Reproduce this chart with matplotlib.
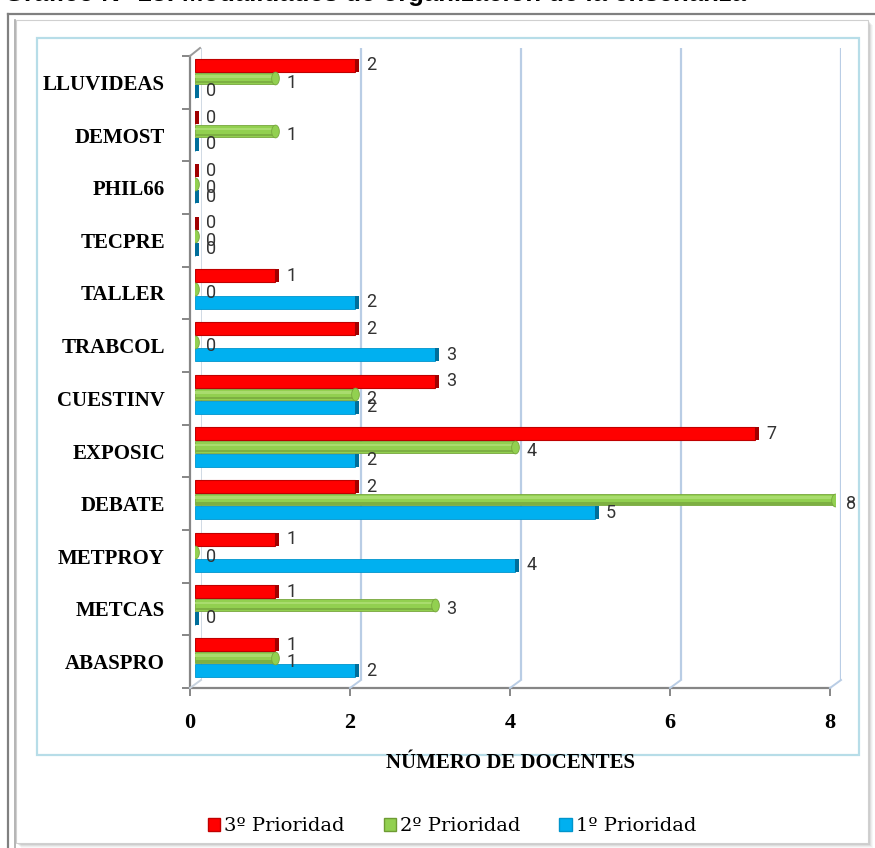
import numpy as np
import matplotlib
matplotlib.use("Agg")
import matplotlib.pyplot as plt
import matplotlib.font_manager as fm
from matplotlib.transforms import Affine2D
from matplotlib.patches import Rectangle, Patch
from matplotlib.lines import Line2D
from matplotlib.path import Path

# =============================================================================
# data (bottom -> top)
# =============================================================================
categories = ["ABASPRO", "METCAS", "METPROY", "DEBATE", "EXPOSIC", "CUESTINV",
              "TRABCOL", "TALLER", "TECPRE", "PHIL66", "DEMOST", "LLUVIDEAS"]
prio3 = [1, 1, 1, 2, 7, 3, 2, 1, 0, 0, 0, 2]
prio2 = [1, 3, 0, 8, 4, 2, 0, 0, 0, 0, 1, 1]
prio1 = [2, 0, 4, 5, 2, 2, 3, 2, 0, 0, 0, 0]
series_names = ["3º Prioridad", "2º Prioridad", "1º Prioridad"]
x_ticks = [0, 2, 4, 6, 8]
x_title = "NÚMERO DE DOCENTES"
title = "Gráfico N° 18: Modalidades de organización de la enseñanza"

W, H = 875, 848
fig = plt.figure(figsize=(W / 100, H / 100), dpi=100)
fig.patch.set_facecolor("white")

# pixel coords, y going down
px = Affine2D().scale(1 / W, -1 / H).translate(0, 1) + fig.transFigure


def box(l, t, r, b):
    return [l / W, 1 - b / H, (r - l) / W, (b - t) / H]


names = {f.name for f in fm.fontManager.ttflist}
num_font = "Liberation Sans Narrow" if "Liberation Sans Narrow" in names else "Roboto"
serif = ["Liberation Serif", "DejaVu Serif"]

# --> outer frame / card with shadow (behind the axes)
fig.add_artist(Line2D([8, 875], [14, 14], color="#808080", lw=1.6, transform=px))
fig.add_artist(Line2D([8, 8], [14, 848], color="#808080", lw=1.6, transform=px))
for i, a in enumerate([0.10, 0.08, 0.06, 0.04, 0.03]):
    fig.add_artist(Rectangle((16 + i + 1, 20 + i + 1), 852, 823, facecolor="#000000",
                             alpha=a, lw=0, transform=px, zorder=-3))
fig.add_artist(Rectangle((16, 20), 852, 823, facecolor="white", edgecolor="#D0D0D0",
                         lw=0.8, transform=px, zorder=-2))
fig.add_artist(Line2D([15, 15], [20, 848], color="#A8A8A8", lw=1.2, transform=px))
fig.add_artist(Rectangle((37, 38), 822, 717, facecolor="none", edgecolor="#B7DDE8",
                         lw=1.6, transform=px, zorder=-1))

# cut off title at the very top
fig.text(746, 0.5, title, transform=px, ha="right", va="baseline",
         fontsize=18.5, fontweight="bold", family=["Liberation Sans", "DejaVu Sans"])

n = len(categories)
ylim = (-0.5, n - 0.5)

# =============================================================================
# back wall: gridlines
# =============================================================================
ax_back = fig.add_axes(box(201, 48, 841, 680))
ax_back.set_xlim(0, 8)
ax_back.set_ylim(*ylim)
ax_back.axis("off")
for g in x_ticks[1:]:
    ax_back.axvline(g, color="#B9CDE5", lw=1.6)
ax_back.axvline(0, color="#C8D3DF", lw=1.2)

# =============================================================================
# front: spines, ticks, labels
# =============================================================================
ax = fig.add_axes(box(190, 56, 830, 688))
ax.patch.set_alpha(0)
ax.set_xlim(0, 8)
ax.set_ylim(*ylim)
for s in ["top", "right"]:
    ax.spines[s].set_visible(False)
for s in ["left", "bottom"]:
    ax.spines[s].set_color("#868686")
    ax.spines[s].set_linewidth(1.6)
ax.set_xticks(x_ticks)
ax.set_xticklabels([str(t) for t in x_ticks], fontsize=16, fontweight="bold", family=serif)
ax.tick_params(axis="x", length=6, width=1.4, color="#868686", pad=12)
ax.set_yticks(np.arange(-0.5, n, 1.0))
ax.set_yticklabels([])
ax.tick_params(axis="y", which="major", length=6, width=1.4, color="#868686")
ax.set_yticks(np.arange(n), minor=True)
ax.set_yticklabels(categories, minor=True, fontsize=15, fontweight="bold", family=serif)
ax.tick_params(axis="y", which="minor", length=0, pad=18)

# 3D slants joining front and back planes
for g in x_ticks:
    xb, _ = ax_back.transData.transform((g, ylim[0]))
    xf, _ = ax.transData.transform((g, ylim[0]))
    col = "#B9CDE5" if g > 0 else "#C8D3DF"
    fig.add_artist(Line2D([xf, xb], [688, 680], color=col, lw=1.4, transform=px))
fig.add_artist(Line2D([190, 200], [56, 48], color="#9A9A9A", lw=1.4, transform=px))

fig.text(511, 763, x_title, transform=px, ha="center", va="center",
         fontsize=15, fontweight="bold", family=serif)

# =============================================================================
# bars (middle plane)
# =============================================================================
axb = fig.add_axes(box(195, 52, 835, 684))
axb.patch.set_alpha(0)
axb.set_xlim(0, 8)
axb.set_ylim(*ylim)
axb.axis("off")

y = np.arange(n)
h = 0.25
side = 0.045

# red - 3º
axb.barh(y + h, prio3, height=h, color="#FF0000", edgecolor="#C00000", lw=0.8)
axb.barh(y + h, side, left=prio3, height=h, color="#A00000", lw=0)
# blue - 1º
axb.barh(y - h, prio1, height=h, color="#00B0F0", edgecolor="#0095CC", lw=0.6)
axb.barh(y - h, side, left=prio1, height=h, color="#006E9A", lw=0)
# green - 2º cylinder
axb.barh(y, prio2, height=h * 0.85, color="#92D050", edgecolor="#77A63D", lw=0.6)
axb.barh(y + h * 0.15, prio2, height=h * 0.2, color="#A9DC6E", lw=0)
axb.barh(y - h * 0.3, prio2, height=h * 0.18, color="#7DB042", lw=0)
t = np.linspace(0, 2 * np.pi, 40)
cap = Path(np.column_stack([0.6 * np.cos(t), np.sin(t)]))
axb.scatter(prio2, y, marker=cap, s=85, color="#92D050", edgecolors="#77A63D",
            linewidths=0.6, zorder=3)

for vals, dy, off in [(prio3, h, 0), (prio2, 0, -3), (prio1, -h, 0)]:
    for yi, v in zip(y, vals):
        axb.annotate(str(v), (v, yi + dy), xytext=(8, off), textcoords="offset points",
                     ha="left", va="center", fontsize=13, color="#333333",
                     family=num_font)

# legend
handles = [Patch(facecolor="#FF0000", edgecolor="#C00000"),
           Patch(facecolor="#92D050", edgecolor="#6E9B33"),
           Patch(facecolor="#00B0F0", edgecolor="#0095CC")]
fig.legend(handles, series_names, loc="center", bbox_to_anchor=(452 / W, 1 - 826 / H),
           ncol=3, frameon=False, prop={"family": "DejaVu Serif", "size": 14},
           handlelength=0.65, handleheight=0.65, handletextpad=0.2, columnspacing=2.0)

fig.savefig("out.png", dpi=100, facecolor="white")
